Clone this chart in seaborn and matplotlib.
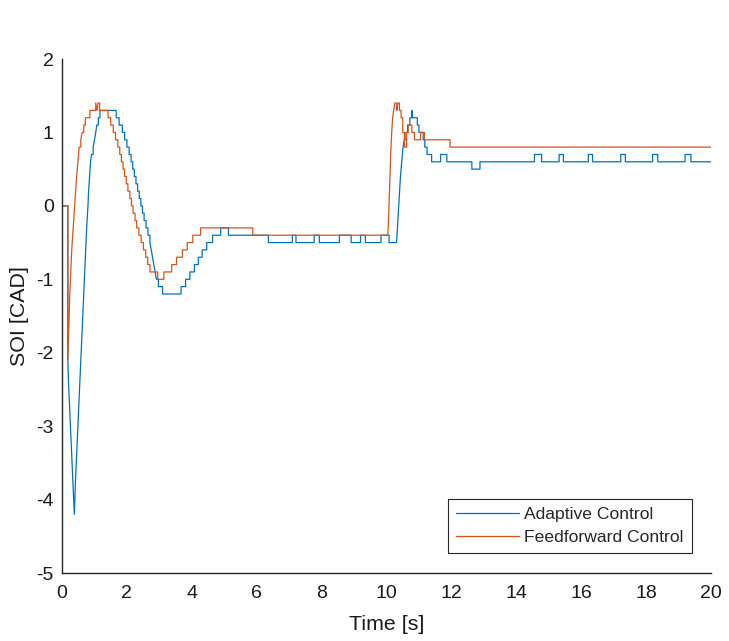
import pandas as pd
import matplotlib.pyplot as plt
import seaborn as sns
import matplotlib as mpl

# breakpoints: value holds until the next time; very short gaps are ramps
t_adaptive = [0.00, 0.18, 0.20, 0.23, 0.26, 0.29, 0.32, 0.35, 0.38,
              0.41, 0.45, 0.49, 0.53, 0.57, 0.61, 0.65, 0.69, 0.72, 0.76, 0.80,
              0.82, 0.85, 0.88, 0.91, 0.96, 1.00, 1.04, 1.07, 1.12, 1.17,
              1.67, 1.76, 1.86, 1.93, 2.00, 2.07, 2.13, 2.18, 2.23, 2.28,
              2.33, 2.38, 2.43, 2.48, 2.53, 2.59, 2.65, 2.71, 2.75, 2.79,
              2.83, 2.87, 2.91, 2.97, 3.10,
              3.67, 3.81, 3.94, 4.08, 4.20, 4.32, 4.46, 4.64, 4.89, 5.13,
              6.36, 7.10, 7.21, 7.77, 7.93, 8.55, 8.91, 9.20, 9.35, 9.83,
              10.08, 10.31, 10.35, 10.39, 10.43, 10.47, 10.51, 10.55, 10.60, 10.65,
              10.72, 10.78, 10.81, 10.95, 11.00, 11.13, 11.18, 11.25, 11.39,
              11.67, 11.86, 12.63, 12.88, 14.56, 14.78, 15.32, 15.45, 16.22,
              16.35, 17.22, 17.36, 18.20, 18.36, 19.20, 19.38, 20.00]
v_adaptive = [0.0, -2.1, -2.4, -2.7, -3.0, -3.3, -3.6, -3.9, -4.2,
              -3.8, -3.4, -3.0, -2.6, -2.2, -1.8, -1.4, -1.0, -0.7, -0.3, 0.0,
              0.2, 0.4, 0.6, 0.7, 0.8, 0.9, 1.0, 1.1, 1.2, 1.3,
              1.2, 1.1, 1.0, 0.9, 0.8, 0.7, 0.6, 0.5, 0.4, 0.3,
              0.2, 0.1, 0.0, -0.1, -0.2, -0.3, -0.4, -0.5, -0.6, -0.7,
              -0.8, -0.9, -1.0, -1.1, -1.2,
              -1.1, -1.0, -0.9, -0.8, -0.7, -0.6, -0.5, -0.4, -0.3, -0.4,
              -0.5, -0.4, -0.5, -0.4, -0.5, -0.4, -0.5, -0.4, -0.5, -0.4,
              -0.5, -0.5, -0.2, 0.1, 0.4, 0.6, 0.8, 0.9, 1.0, 1.1,
              1.2, 1.3, 1.2, 1.1, 1.0, 0.9, 0.8, 0.7, 0.6,
              0.7, 0.6, 0.5, 0.6, 0.7, 0.6, 0.7, 0.6, 0.7,
              0.6, 0.7, 0.6, 0.7, 0.6, 0.7, 0.6, 0.6]

t_feedforward = [0.00, 0.18, 0.20, 0.22, 0.24, 0.27, 0.30, 0.33, 0.36, 0.39,
                 0.42, 0.45, 0.49, 0.53, 0.58, 0.62, 0.67, 0.72, 0.86,
                 1.04, 1.08, 1.11, 1.16,
                 1.42, 1.50, 1.58, 1.65, 1.72, 1.78, 1.83, 1.88, 1.93, 1.98,
                 2.03, 2.09, 2.14, 2.19, 2.25, 2.30, 2.37, 2.44, 2.51, 2.58,
                 2.64, 2.71, 2.95,
                 3.14, 3.38, 3.53, 3.71, 3.86, 4.03, 4.27, 5.88,
                 10.04, 10.07, 10.10, 10.13, 10.16, 10.19, 10.22, 10.26, 10.32,
                 10.35, 10.40, 10.45, 10.50, 10.55, 10.62, 10.67, 10.78, 10.86,
                 10.93, 11.05, 11.17, 11.96, 20.00]
v_feedforward = [0.0, -2.1, -1.8, -1.5, -1.2, -0.9, -0.6, -0.4, -0.2, 0.0,
                 0.2, 0.4, 0.6, 0.8, 0.9, 1.0, 1.1, 1.2, 1.3,
                 1.4, 1.3, 1.4, 1.3,
                 1.2, 1.1, 1.0, 0.9, 0.8, 0.7, 0.6, 0.5, 0.4, 0.3,
                 0.2, 0.1, 0.0, -0.1, -0.2, -0.3, -0.4, -0.5, -0.6, -0.7,
                 -0.8, -0.9, -1.0,
                 -0.9, -0.8, -0.7, -0.6, -0.5, -0.4, -0.3, -0.4,
                 -0.4, -0.1, 0.3, 0.7, 1.0, 1.2, 1.3, 1.4, 1.3,
                 1.4, 1.3, 1.2, 1.0, 0.8, 1.0, 1.1, 1.0, 0.9,
                 0.9, 1.0, 0.9, 0.8, 0.8]

series_names = ['Adaptive Control', 'Feedforward Control']
series_colors = ['#0072BD', '#D95319']


def to_path(t, v, name, ramp=0.045):
    # hold each value until the next sample, but draw fast changes as ramps
    xs, ys = [], []
    for i in range(len(t)):
        xs.append(t[i])
        ys.append(v[i])
        if i + 1 < len(t) and t[i + 1] - t[i] > ramp:
            xs.append(t[i + 1])
            ys.append(v[i])
    return pd.DataFrame({'t': xs, 'soi': ys, 'series': name})


df = pd.concat([to_path(t_adaptive, v_adaptive, series_names[0]),
                to_path(t_feedforward, v_feedforward, series_names[1])],
               ignore_index=True)

sns.set_style('white')
plt.rcParams['font.family'] = ['Liberation Sans', 'DejaVu Sans']
mpl.rcParams['axes.unicode_minus'] = False
mpl.rcParams['axes.edgecolor'] = '#262626'

fig = plt.figure(figsize=(7.29, 6.41), dpi=100)
ax = fig.add_axes([62/729, 1 - 573/641, 649/729, 514/641])

sns.lineplot(data=df, x='t', y='soi', hue='series', hue_order=series_names,
             palette=dict(zip(series_names, series_colors)), estimator=None,
             units='series', sort=False, linewidth=0.9, ax=ax)

ax.set_xlim(0, 20)
ax.set_ylim(-5, 2)
ax.set_xticks(range(0, 21, 2))
ax.set_yticks(range(-5, 3))
ax.tick_params(axis='both', direction='in', length=5, width=0.8,
               color='#262626', labelsize=14, labelcolor='#1a1a1a')
ax.tick_params(axis='x', pad=9)
ax.tick_params(axis='y', pad=6)
for s in ['top', 'right']:
    ax.spines[s].set_visible(False)
for s in ['left', 'bottom']:
    ax.spines[s].set_linewidth(1.0)

ax.set_xlabel('Time [s]', fontsize=15.4, color='#1a1a1a', labelpad=9)
ax.set_ylabel('SOI [CAD]', fontsize=15.4, color='#1a1a1a', labelpad=5)

leg = ax.legend(loc='lower right', bbox_to_anchor=(0.970, 0.039), fontsize=12.6,
                frameon=True, fancybox=False, edgecolor='#262626', framealpha=1,
                handlelength=3.6, borderpad=0.45, labelspacing=0.45,
                handletextpad=0.3, borderaxespad=0)
leg.get_frame().set_linewidth(0.8)

fig.savefig('out.png', dpi=100)
